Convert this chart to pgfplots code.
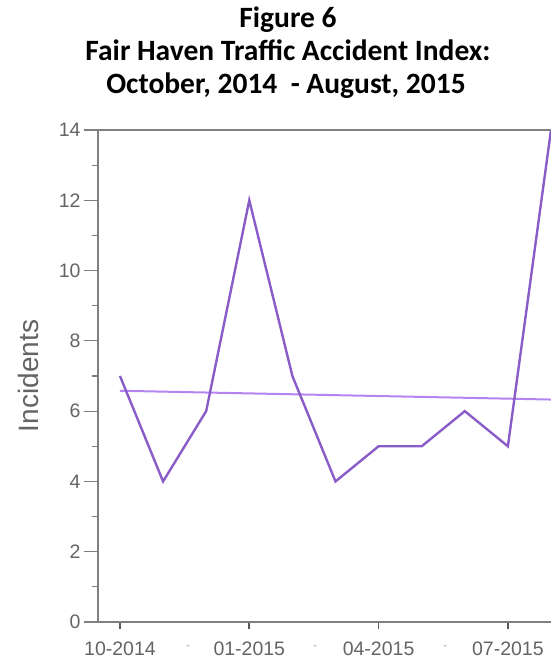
\documentclass[border=0pt]{standalone}
\usepackage{fontspec}
\setmainfont{Liberation Sans}
\newfontfamily\titlefont{Carlito}
\usepackage{pgfplots}
\pgfplotsset{compat=1.18}

\definecolor{dataline}{RGB}{138,92,200}
\definecolor{trendline}{RGB}{182,132,240}
\definecolor{axgray}{RGB}{128,128,128}
\definecolor{labgray}{RGB}{100,100,100}

\tikzset{elided/.style={font=\fontsize{12}{12}\selectfont, text=black!35, yshift=-26pt}}

\begin{document}
\begin{tikzpicture}
\useasboundingbox (-98pt,-36pt) rectangle (453pt,622pt);

% title
\begin{scope}[every node/.style={anchor=base, font=\titlefont\fontsize{29.5}{33}\selectfont\bfseries}]
  \node at (190pt,594pt) {Figure 6};
  \node at (190pt,561pt) {Fair Haven Traffic Accident Index:};
  \node at (188pt,528pt) {October, 2014 \ - August, 2015};
\end{scope}

\begin{axis}[
    scale only axis,
    width=453pt, height=492pt,
    xmin=-0.51, xmax=10,
    ymin=0, ymax=14,
    axis x line*=bottom,
    axis y line*=left,
    axis line style={axgray, line width=1.2pt},
    tick align=outside,
    xtick={0,3,6,9},
    xticklabels={10-2014,01-2015,04-2015,07-2015},
    xtick style={black!65, line width=1.6pt, /pgfplots/major tick length=7pt},
    xticklabel style={font=\fontsize{19.5}{19.5}\selectfont, text=labgray, yshift=-2pt},
    ytick={0,2,...,14},
    minor y tick num=1,
    ytick style={axgray, line width=1.2pt},
    major tick length=14pt,
    minor tick length=6pt,
    yticklabel style={font=\fontsize{19.5}{19.5}\selectfont, text=labgray},
    /pgf/number format/assume math mode=true,
    ylabel={Incidents},
    ylabel style={at={(axis description cs:-0.1545,0.5)}, anchor=center,
        font=\fontsize{28}{28}\selectfont, text=labgray},
    clip mode=individual,
]
\addplot[trendline, line width=2pt] coordinates {(0,6.58) (10,6.33)};
\addplot[dataline, line width=2.4pt, line join=miter] coordinates {
    (0,7) (1,4) (2,6) (3,12) (4,7) (5,4) (6,5) (7,5) (8,6) (9,5) (10,14)
};
\draw[axgray, line width=1.2pt] (rel axis cs:0,1) -- (rel axis cs:1,1);
% elided labels between the printed months
\node[elided] at (axis cs:1.58,0) {-};
\node[elided] at (axis cs:4.53,0) {-};
\node[elided] at (axis cs:7.55,0) {-};
\end{axis}
\end{tikzpicture}
\end{document}
